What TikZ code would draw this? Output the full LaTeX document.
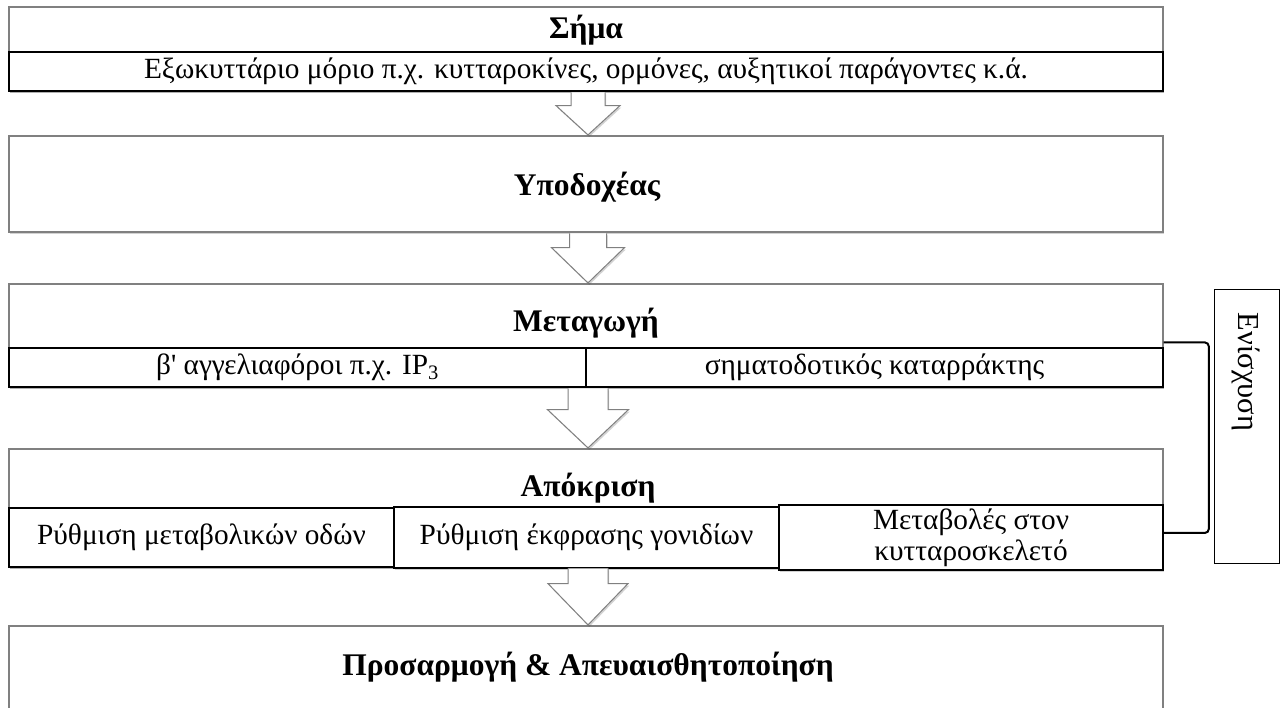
\documentclass[tikz,border=0pt]{standalone}
\usepackage{fontspec}
\setmainfont{Liberation Serif}
\newfontfamily\plainserif{Liberation Serif}
\usetikzlibrary{shadows,calc}
\newcommand\blkarrow[5]{% from, to, shaft half, head half, head drop
  \filldraw[blk] let \p1=(#1.south), \p2=(#2.north) in
    (\x1+2pt-#3,\y1-0.8pt) -- (\x1+2pt-#3,\y1-#5) -- (\x1+2pt-#4,\y1-#5) --
    (\x1+2pt,\y2+0.5pt) -- (\x1+2pt+#4,\y1-#5) -- (\x1+2pt+#3,\y1-#5) -- (\x1+2pt+#3,\y1-0.8pt);}
\begin{document}
\begin{tikzpicture}[x=1pt,y=-1pt,
  shd/.style={drop shadow={shadow xshift=1.2pt,shadow yshift=-2pt,opacity=0.25,fill=black!70}},
  mainbox/.style={draw=black!50, line width=1.2pt, fill=white, shd, inner sep=0pt},
  subbox/.style={draw=black, line width=1.6pt, fill=white, shd, inner sep=0pt, font=\fontsize{29.3}{31}\selectfont, align=center},
  title/.style={font=\fontsize{31.5}{36}\selectfont\bfseries, inner sep=0pt},
  txt/.style={font=\fontsize{30.5}{32}\selectfont, inner sep=0pt, align=center},
  blk/.style={draw=black!50, line width=1pt, fill=white, shd},
  brk/.style={draw=black, line width=2pt, rounded corners=4pt},
  enhbox/.style={draw=black, line width=1pt, fill=white, inner sep=0pt}
]
\useasboundingbox (0,0) rectangle (1286,708);

% main boxes
\node[mainbox, minimum width=1154pt, minimum height=84pt] (b1) at (586,49) {};
\node[mainbox, minimum width=1154pt, minimum height=96pt] (b2) at (586,184) {};
\node[mainbox, minimum width=1154pt, minimum height=103pt] (b3) at (586,335.5) {};
\node[mainbox, minimum width=1154pt, minimum height=118pt] (b4) at (586,508) {};
\node[mainbox, minimum width=1154pt, minimum height=86pt] (b5) at (586,669) {};

% sub boxes
\node[subbox, minimum width=1154pt, minimum height=39pt] (s1) at (586,71.5)
  {Εξωκυττάριο μόριο π.χ. κυτταροκίνες, ορμόνες, αυξητικοί παράγοντες κ.ά.};
\node[subbox, minimum width=577pt, minimum height=39pt] (s3a) at (297.5,367.5)
  {β{\plainserif '} αγγελιαφόροι π.χ. IP\textsubscript{3}};
\node[subbox, minimum width=577pt, minimum height=39pt] (s3b) at (874.5,367.5)
  {σηματοδοτικός καταρράκτης};
\node[subbox, minimum width=385pt, minimum height=59pt] (r1) at (201.5,537.5)
  {Ρύθμιση μεταβολικών οδών};
\node[subbox, minimum width=385pt, minimum height=61pt] (r2) at (586.5,537.5)
  {Ρύθμιση έκφρασης γονιδίων};
\node[subbox, minimum width=384pt, minimum height=65pt] (r3) at (971,537.5)
  {Μεταβολές στον\\κυτταροσκελετό};

% titles
\node[title] (t1) at (586,30) {Σήμα};
\node[title] (t2) at (587,187) {Υποδοχέας};
\node[title] (t3) at (586,323) {Μεταγωγή};
\node[title] (t4) at (588,488) {Απόκριση};
\node[title] (t5) at (588,667) {Προσαρμογή \& Απευαισθητοποίηση};

% block arrows
\blkarrow{b1}{b2}{17pt}{32pt}{14pt}
\blkarrow{b2}{b3}{18.5pt}{36.5pt}{15pt}
\blkarrow{b3}{b4}{20pt}{40.5pt}{22pt}
\blkarrow{b4}{b5}{20pt}{40pt}{16pt}

% amplification
\node[enhbox, minimum width=65pt, minimum height=273pt] (enh) at (1246.5,426.5) {};
\node[txt, rotate=-90] (enht) at (1246,372) {Ενίσχυση};
\draw[brk] ([yshift=-59pt]b3.north east) -| ([xshift=45pt,yshift=4.5pt]r3.east) -- ([yshift=4.5pt]r3.east);
\end{tikzpicture}
\end{document}
